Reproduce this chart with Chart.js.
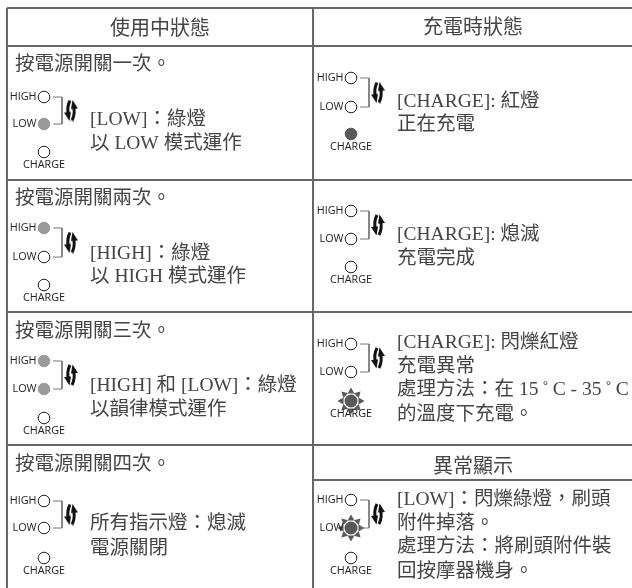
<!DOCTYPE html>
<html>
<head>
<meta charset="utf-8">
<style>
  html, body { margin: 0; padding: 0; background: #fff; }
  canvas { display: block; }
</style>
<script src="https://cdn.jsdelivr.net/npm/chart.js@4/dist/chart.umd.min.js"></script>
</head>
<body>
<canvas id="statusChart" width="632" height="588"></canvas>
<script>
// Table wording
const headers = ["使用中狀態", "充電時狀態", "異常顯示"]
const rowTitles = ["按電源開關一次。", "按電源開關兩次。", "按電源開關三次。", "按電源開關四次。"]
const leftNotes = [
  ["[LOW]：綠燈", "以 LOW 模式運作"],
  ["[HIGH]：綠燈", "以 HIGH 模式運作"],
  ["[HIGH] 和 [LOW]：綠燈", "以韻律模式運作"],
  ["所有指示燈：熄滅", "電源關閉"]
]
const rightNotes = [
  ["[CHARGE]: 紅燈", "正在充電"],
  ["[CHARGE]: 熄滅", "充電完成"],
  ["[CHARGE]: 閃爍紅燈", "充電異常", "處理方法：在 15\u2009˚\u2009C - 35\u2009˚\u2009C", "的溫度下充電。"],
  ["[LOW]：閃爍綠燈，刷頭", "附件掉落。", "處理方法：將刷頭附件裝", "回按摩器機身。"]
]
const ledLabels = ["HIGH", "LOW", "CHARGE"]

// Lamp state per panel, in order HIGH, LOW, CHARGE
const leftLamps = [
  ["off", "green", "off"],
  ["green", "off", "off"],
  ["green", "green", "off"],
  ["off", "off", "off"]
]
const rightLamps = [
  ["off", "off", "red"],
  ["off", "off", "off"],
  ["off", "off", "burst"],
  ["off", "burst", "off"]
]

// Lamp rows
const leftLampX = 44
const rightLampX = 351
const leftLampY = [[97, 124, 152], [228, 257, 285], [361, 389, 418], [501, 528, 558]]
const rightLampY = [[78, 107, 134], [211, 239, 267], [344, 372, 401], [500, 528, 558]]

// Table rules: [x1, y1, x2, y2]
const rules = [
  [7, 8, 632, 8],
  [7, 46, 632, 46],
  [7, 180, 632, 180],
  [7, 312, 632, 312],
  [7, 445, 632, 445],
  [313, 480, 632, 480],
  [7, 8, 7, 588],
  [313, 8, 313, 588]
]

// Text rows
const headerX = [160, 473, 473]
const headerY = [28, 27, 466]
const titleX = 15
const titleY = [63, 197, 330, 463]
const leftNoteX = 90
const leftNoteY = [[118, 142], [252, 275], [384, 408], [522, 547]]
const rightNoteX = 397
const rightNoteY = [[100, 123], [233, 257], [341, 365, 388, 413], [498, 522, 545, 570]]

const lampFill = { off: "#ffffff", green: "#9a9a9c", red: "#58595b", burst: "#58595b" }
const headerFont = '20px "Liberation Serif", "Noto Sans CJK TC"'
const textFont = '19.5px "Liberation Serif", "Noto Sans CJK TC"'
const labelFont = '10.8px "Open Sans"'

// Flashing lamp: dark disc with triangles around it
function makeBurst() {
  const c = document.createElement("canvas")
  c.width = 30
  c.height = 30
  const g = c.getContext("2d")
  g.translate(15, 15)
  g.fillStyle = "#58595b"
  for (let i = 0; i < 8; i++) {
    g.save()
    g.rotate(i * Math.PI / 4)
    g.beginPath()
    g.moveTo(-3.4, -7.5)
    g.lineTo(0, -13.5)
    g.lineTo(3.4, -7.5)
    g.closePath()
    g.fill()
    g.restore()
  }
  g.beginPath()
  g.arc(0, 0, 6.5, 0, Math.PI * 2)
  g.fill()
  return c
}

// The two curved arrows between the HIGH and LOW lamps
function makeArrows() {
  const c = document.createElement("canvas")
  c.width = 14
  c.height = 22
  const g = c.getContext("2d")
  g.fillStyle = "#111"
  g.strokeStyle = "#111"
  g.lineWidth = 3
  g.beginPath()
  g.moveTo(6, 1)
  g.quadraticCurveTo(2.5, 8, 4.5, 15)
  g.stroke()
  g.beginPath()
  g.moveTo(0, 13)
  g.lineTo(7, 12.5)
  g.lineTo(5.5, 21.5)
  g.closePath()
  g.fill()
  g.beginPath()
  g.moveTo(8, 21)
  g.quadraticCurveTo(11.5, 14, 9.5, 7)
  g.stroke()
  g.beginPath()
  g.moveTo(14, 9)
  g.lineTo(7, 9.5)
  g.lineTo(8.5, 0.5)
  g.closePath()
  g.fill()
  return c
}

const burstIcon = makeBurst()
const arrowIcon = makeArrows()

const datasets = []

rules.forEach(function(r) {
  datasets.push({
    data: [{ x: r[0], y: r[1] }, { x: r[2], y: r[3] }],
    showLine: true,
    borderColor: "#666",
    borderWidth: 2,
    pointRadius: 0
  })
})

// Brackets, arrows and lamps for one panel
function addPanel(x, ys, lamps) {
  datasets.push({
    data: [
      { x: x + 9, y: ys[0] }, { x: x + 18, y: ys[0] },
      { x: x + 18, y: ys[1] }, { x: x + 9, y: ys[1] }
    ],
    showLine: true,
    borderColor: "#777",
    borderWidth: 1,
    pointRadius: 0
  })
  datasets.push({
    data: [{ x: x + 27, y: (ys[0] + ys[1]) / 2 }],
    pointStyle: arrowIcon,
    pointRadius: 8
  })
  datasets.push({
    data: ys.map(function(y) { return { x: x, y: y } }),
    pointStyle: lamps.map(function(s) { return s === "burst" ? burstIcon : "circle" }),
    pointRadius: 5.8,
    pointBackgroundColor: lamps.map(function(s) { return lampFill[s] }),
    pointBorderColor: lamps.map(function(s) { return s === "off" ? "#222" : lampFill[s] }),
    pointBorderWidth: 1
  })
}

leftLamps.forEach(function(lamps, i) { addPanel(leftLampX, leftLampY[i], lamps) })
rightLamps.forEach(function(lamps, i) { addPanel(rightLampX, rightLampY[i], lamps) })

// Table text, placed through the chart's own scales
const tableText = {
  id: "tableText",
  afterDatasetsDraw: function(chart) {
    const ctx = chart.ctx
    const sx = chart.scales.x
    const sy = chart.scales.y

    function put(str, x, y, align, font, color) {
      ctx.font = font
      ctx.textAlign = align
      ctx.textBaseline = "middle"
      ctx.fillStyle = color
      ctx.fillText(str, sx.getPixelForValue(x), sy.getPixelForValue(y))
    }

    ctx.save()
    // +1.5: canvas "middle" sits a little above the glyph centre for this font
    headers.forEach(function(h, i) { put(h, headerX[i], headerY[i] + 1.5, "center", headerFont, "#444") })
    rowTitles.forEach(function(t, i) { put(t, titleX, titleY[i] + 1.5, "left", textFont, "#444") })
    leftNotes.forEach(function(lines, i) {
      lines.forEach(function(l, j) { put(l, leftNoteX, leftNoteY[i][j] + 1.5, "left", textFont, "#444") })
    })
    rightNotes.forEach(function(lines, i) {
      lines.forEach(function(l, j) { put(l, rightNoteX, rightNoteY[i][j] + 1.5, "left", textFont, "#444") })
    })

    function panelLabels(x, ys) {
      put(ledLabels[0], x - 7.5, ys[0], "right", labelFont, "#222")
      put(ledLabels[1], x - 7.5, ys[1], "right", labelFont, "#222")
      put(ledLabels[2], x, ys[2] + 12.5, "center", labelFont, "#222")
    }
    leftLampY.forEach(function(ys) { panelLabels(leftLampX, ys) })
    rightLampY.forEach(function(ys) { panelLabels(rightLampX, ys) })
    ctx.restore()
  }
}

new Chart(document.getElementById("statusChart"), {
  type: "scatter",
  data: { datasets: datasets },
  options: {
    responsive: false,
    animation: false,
    layout: { padding: 0, autoPadding: false },
    plugins: { legend: { display: false }, tooltip: { enabled: false } },
    scales: {
      x: { type: "linear", min: 0, max: 632, display: false },
      y: { type: "linear", min: 0, max: 588, reverse: true, display: false }
    }
  },
  plugins: [tableText]
})
</script>
</body>
</html>
